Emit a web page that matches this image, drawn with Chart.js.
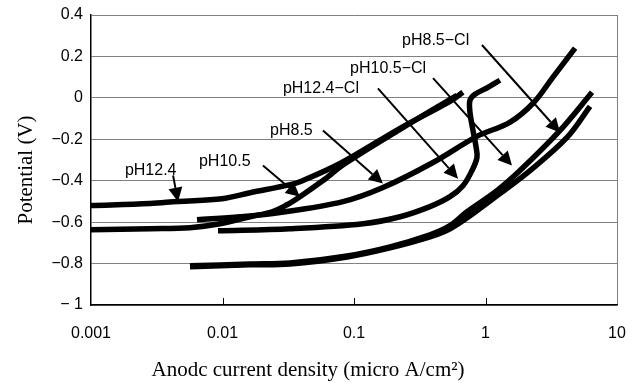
<!DOCTYPE html>
<html>
<head>
<meta charset="utf-8">
<script src="https://cdn.jsdelivr.net/npm/chart.js@4.4.0/dist/chart.umd.min.js"></script>
<style>
  html, body { margin: 0; padding: 0; background: #fff; }
</style>
</head>
<body>
<canvas id="chart" width="632" height="383"></canvas>
<script>
// Axis ticks
const xTicks = [0.001, 0.01, 0.1, 1, 10];
const xTickLabels = ['0.001', '0.01', '0.1', '1', '10'];
const yTicks = [-1, -0.8, -0.6, -0.4, -0.2, 0, 0.2, 0.4];
const yTickLabels = ['\u2212 1', '\u22120.8', '\u22120.6', '\u22120.4', '\u22120.2', '0', '0.2', '0.4'];

// Polarization curves: current density (micro A/cm2) and potential (V)
const ph124X = [0.001, 0.00281, 0.00459, 0.0099, 0.0162, 0.0326, 0.0388, 0.0783, 0.224, 0.537, 0.674];
const ph124Y = [-0.52, -0.51, -0.50, -0.487, -0.458, -0.419, -0.405, -0.317, -0.147, -0.017, 0.027];

const ph105X = [0.001, 0.00281, 0.00566, 0.00957, 0.0162, 0.0238, 0.0309, 0.0388, 0.0581, 0.0855, 0.224, 0.607];
const ph105Y = [-0.637, -0.632, -0.627, -0.608, -0.574, -0.550, -0.516, -0.477, -0.399, -0.317, -0.152, 0.012];

const ph85X = [0.0064, 0.0136, 0.0273, 0.0824, 0.166, 0.399, 0.861, 1.53, 2.30, 3.26, 4.80];
const ph85Y = [-0.588, -0.574, -0.554, -0.501, -0.433, -0.312, -0.186, -0.118, -0.026, 0.100, 0.240];

const ph124ClX = [0.00924, 0.0326, 0.117, 0.224, 0.378, 0.537, 0.674, 0.789, 0.861, 0.844, 0.803, 0.762, 0.762, 0.832, 1.045, 1.288];
const ph124ClY = [-0.642, -0.632, -0.608, -0.574, -0.525, -0.477, -0.424, -0.351, -0.288, -0.230, -0.157, -0.070, -0.012, 0.017, 0.051, 0.085];

const ph105ClX = [0.00566, 0.0162, 0.0326, 0.0886, 0.188, 0.378, 0.537, 0.861, 1.288, 2.18, 4.17, 6.24];
const ph105ClY = [-0.815, -0.806, -0.802, -0.768, -0.724, -0.671, -0.632, -0.545, -0.462, -0.351, -0.191, -0.041];

const ph85ClX = [0.00566, 0.0162, 0.0326, 0.0886, 0.188, 0.378, 0.537, 0.723, 1.222, 1.828, 3.69, 6.46];
const ph85ClY = [-0.811, -0.802, -0.797, -0.763, -0.719, -0.661, -0.617, -0.550, -0.448, -0.351, -0.157, 0.027];

// Curve labels and their arrows (data coordinates)
const labelTexts = ['pH12.4', 'pH10.5', 'pH8.5', 'pH12.4\u2212Cl', 'pH10.5\u2212Cl', 'pH8.5\u2212Cl'];
const labelX = [0.00181, 0.00662, 0.0230, 0.0288, 0.0933, 0.232];
const labelY = [-0.370, -0.327, -0.181, 0.022, 0.119, 0.255];
const arrowFromX = [0.00421, 0.0203, 0.0581, 0.152, 0.399, 0.940];
const arrowFromY = [-0.375, -0.327, -0.157, 0.046, 0.095, 0.255];
const arrowToX = [0.00459, 0.0388, 0.166, 0.618, 1.59, 3.69];
const arrowToY = [-0.501, -0.477, -0.414, -0.390, -0.327, -0.167];

function toPoints(xs, ys) {
  return xs.map((x, i) => ({ x: x, y: ys[i] }));
}

function curve(label, xs, ys) {
  return {
    label: label,
    data: toPoints(xs, ys),
    borderColor: '#000',
    borderWidth: 5.5,
    pointRadius: 0,
    tension: 0.35,
    fill: false
  };
}

const sansFont = '"Liberation Sans", Arial, sans-serif';
const serifFont = '"Liberation Serif", "Times New Roman", serif';

// Labels, arrows, inner x ticks and axis titles
const decorations = {
  id: 'decorations',
  afterDraw(chart) {
    const ctx = chart.ctx;
    const xs = chart.scales.x;
    const ys = chart.scales.y;
    const area = chart.chartArea;
    ctx.save();

    // short inner tick marks on the x axis
    ctx.strokeStyle = '#000';
    ctx.lineWidth = 1;
    xTicks.slice(1, -1).forEach(v => {
      const px = Math.round(xs.getPixelForValue(v)) + 0.5;
      ctx.beginPath();
      ctx.moveTo(px, area.bottom);
      ctx.lineTo(px, area.bottom - 7);
      ctx.stroke();
    });

    // arrows
    ctx.fillStyle = '#000';
    ctx.lineWidth = 2;
    labelTexts.forEach((t, i) => {
      const x1 = xs.getPixelForValue(arrowFromX[i]);
      const y1 = ys.getPixelForValue(arrowFromY[i]);
      const x2 = xs.getPixelForValue(arrowToX[i]);
      const y2 = ys.getPixelForValue(arrowToY[i]);
      const ang = Math.atan2(y2 - y1, x2 - x1);
      const headLen = 14;
      const headW = 7;
      const bx = x2 - headLen * Math.cos(ang);
      const by = y2 - headLen * Math.sin(ang);
      ctx.beginPath();
      ctx.moveTo(x1, y1);
      ctx.lineTo(bx, by);
      ctx.stroke();
      ctx.beginPath();
      ctx.moveTo(x2, y2);
      ctx.lineTo(bx + headW * Math.sin(ang), by - headW * Math.cos(ang));
      ctx.lineTo(bx - headW * Math.sin(ang), by + headW * Math.cos(ang));
      ctx.closePath();
      ctx.fill();
    });

    // curve labels
    ctx.font = '16px ' + sansFont;
    ctx.textAlign = 'left';
    ctx.textBaseline = 'alphabetic';
    labelTexts.forEach((t, i) => {
      ctx.fillText(t, xs.getPixelForValue(labelX[i]), ys.getPixelForValue(labelY[i]));
    });

    // axis titles
    ctx.font = '21px ' + serifFont;
    ctx.textAlign = 'center';
    ctx.textBaseline = 'middle';
    ctx.fillText('Anodc current density (micro A/cm\u00b2)', 308, 370);
    ctx.translate(26, 170);
    ctx.rotate(-Math.PI / 2);
    ctx.fillText('Potential (V)', 0, 0);
    ctx.restore();
  }
};

new Chart(document.getElementById('chart'), {
  type: 'line',
  data: {
    datasets: [
      curve('pH12.4', ph124X, ph124Y),
      curve('pH10.5', ph105X, ph105Y),
      curve('pH8.5', ph85X, ph85Y),
      curve('pH12.4-Cl', ph124ClX, ph124ClY),
      curve('pH10.5-Cl', ph105ClX, ph105ClY),
      curve('pH8.5-Cl', ph85ClX, ph85ClY)
    ]
  },
  options: {
    responsive: false,
    animation: false,
    devicePixelRatio: 1,
    layout: { padding: { top: 15, right: 15, left: 0, bottom: 0 } },
    plugins: {
      legend: { display: false },
      tooltip: { enabled: false }
    },
    scales: {
      x: {
        type: 'logarithmic',
        min: 0.001,
        max: 10,
        afterBuildTicks: s => { s.ticks = xTicks.map(v => ({ value: v })); },
        afterFit: s => {
          s.height = 78;
          s.paddingLeft = 0;
          s.paddingRight = 0;
        },
        ticks: {
          callback: (v, i) => xTickLabels[i],
          autoSkip: false,
          maxRotation: 0,
          padding: 19,
          color: '#000',
          font: { family: sansFont, size: 16 }
        },
        grid: {
          drawTicks: false,
          color: c => (c.tick && c.tick.value === 10 ? '#808080' : 'rgba(0,0,0,0)')
        },
        border: { color: '#000', width: 1.5 }
      },
      y: {
        min: -1,
        max: 0.4,
        afterBuildTicks: s => { s.ticks = yTicks.map(v => ({ value: v })); },
        afterFit: s => {
          s.width = 91;
          s.paddingTop = 0;
          s.paddingBottom = 0;
        },
        ticks: {
          callback: (v, i) => yTickLabels[i],
          padding: 8,
          color: '#000',
          font: { family: sansFont, size: 16 }
        },
        grid: { drawTicks: false, color: '#808080' },
        border: { color: '#000', width: 1.5 }
      }
    }
  },
  plugins: [decorations]
});
</script>
</body>
</html>
